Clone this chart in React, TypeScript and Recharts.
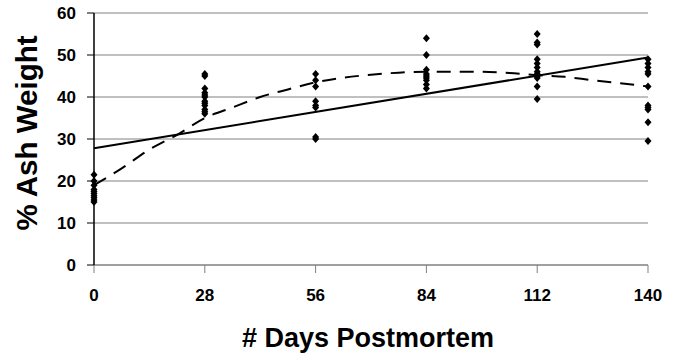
import { CartesianGrid, ComposedChart, Line, Scatter, XAxis, YAxis } from "recharts";

// sample days and the ash weight readings taken on each day
const days = [0, 28, 56, 84, 112, 140];
const ashDay0 = [21.5, 20, 19, 18, 17.5, 17, 16.5, 16, 15.5, 15];
const ashDay28 = [45.5, 45, 42, 41, 40.5, 40, 39, 38.5, 38, 37, 36.5, 36];
const ashDay56 = [45.5, 44, 42.5, 39, 38, 37.5, 30.5, 30];
const ashDay84 = [54, 50, 46.5, 45.5, 45, 44.5, 44, 43, 42];
const ashDay112 = [55, 53, 52.5, 49, 48, 47, 46, 45.5, 45, 44.5, 42.5, 39.5];
const ashDay140 = [49, 48, 47, 46, 45.5, 42.5, 38, 37.5, 37, 34, 29.5];

// trend lines
const linearDays = [0, 140];
const linearValues = [27.8, 49.4];
const curveDays = [0, 7, 14, 21, 28, 35, 42, 49, 56, 63, 70, 77, 84, 91, 98, 105, 112, 119, 126, 133, 140];
const curveValues = [19, 23, 27.5, 31, 35, 37.5, 40, 41.8, 43.5, 44.6, 45.3, 45.8, 46, 46, 46, 45.7, 45.2, 44.8, 44, 43.3, 42.5];

const xTicks = [0, 28, 56, 84, 112, 140];
const yTicks = [0, 10, 20, 30, 40, 50, 60];

const readings = [ashDay0, ashDay28, ashDay56, ashDay84, ashDay112, ashDay140];
const points = readings.flatMap((vals, i) => vals.map((y) => ({ day: days[i], y })));
const linearFit = linearDays.map((day, i) => ({ day, y: linearValues[i] }));
const curveFit = curveDays.map((day, i) => ({ day, y: curveValues[i] }));

const font = "'Liberation Sans', Arial, sans-serif";

const Diamond = (props: any) => {
  const { cx, cy } = props;
  if (cx == null || cy == null) return null;
  return <polygon points={`${cx},${cy - 4} ${cx + 3.5},${cy} ${cx},${cy + 4} ${cx - 3.5},${cy}`} fill="#000" />;
};

export default function App() {
  return (
    <div style={{ position: "absolute", left: 0, top: 0, background: "#fff" }}>
      <ComposedChart width={677} height={356} margin={{ top: 13, right: 29, bottom: 0, left: 0 }}>
        <CartesianGrid vertical={false} stroke="#808080" />
        <XAxis
          type="number"
          dataKey="day"
          domain={[0, 140]}
          ticks={xTicks}
          height={91}
          stroke="#808080"
          tickSize={8}
          tickMargin={16}
          tick={{ fill: "#000", fontSize: 17, fontWeight: "bold", fontFamily: font }}
          label={{
            content: () => (
              <text x={368} y={338} textAnchor="middle" dominantBaseline="central" fontFamily={font} fontWeight="bold" fontSize={27} fill="#000">
                # Days Postmortem
              </text>
            ),
          }}
        />
        <YAxis
          type="number"
          dataKey="y"
          domain={[0, 60]}
          ticks={yTicks}
          width={94}
          axisLine={{ stroke: "#000", strokeWidth: 1.5 }}
          tickLine={{ stroke: "#000" }}
          tickSize={7}
          tickMargin={11}
          tick={{ fill: "#000", fontSize: 17, fontWeight: "bold", fontFamily: font }}
          label={{
            content: () => (
              <text x={26} y={133} transform="rotate(-90 26 133)" textAnchor="middle" dominantBaseline="central" fontFamily={font} fontWeight="bold" fontSize={29.5} fill="#000">
                % Ash Weight
              </text>
            ),
          }}
        />
        <Line data={linearFit} dataKey="y" type="linear" stroke="#000" strokeWidth={2} dot={false} isAnimationActive={false} />
        <Line data={curveFit} dataKey="y" type="monotone" stroke="#000" strokeWidth={2} strokeDasharray="14 9" dot={false} isAnimationActive={false} />
        <Scatter data={points} shape={Diamond} isAnimationActive={false} />
      </ComposedChart>
    </div>
  );
}
